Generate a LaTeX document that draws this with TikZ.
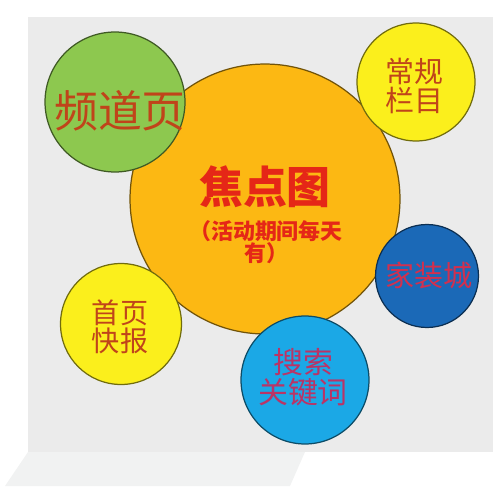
\documentclass[tikz,border=0pt]{standalone}
\usepackage{fontspec}
\setmainfont{Noto Sans CJK SC}
\usetikzlibrary{positioning}

\definecolor{bggray}{HTML}{EBEBEB}
\definecolor{strip}{HTML}{F1F2F2}
\definecolor{pgreen}{HTML}{8DC84F}
\definecolor{porange}{HTML}{FCB813}
\definecolor{pyellow}{HTML}{FBEF1C}
\definecolor{pblue}{HTML}{1B69B7}
\definecolor{psky}{HTML}{1BA8E6}
\definecolor{tbrown}{HTML}{C0441A}
\definecolor{tred}{HTML}{E52717}
\definecolor{tpink}{HTML}{D2304E}
\definecolor{tplum}{HTML}{BA3466}

\tikzset{
  bubble/.style={circle, draw=black!55!#1, fill=#1, line width=0.7pt, inner sep=0pt},
  word/.style={inner sep=0pt, align=center, font=\fontsize{#1}{#1}\selectfont},
  boldword/.style={inner sep=0pt, align=center, font=\fontsize{#1}{#1}\selectfont\bfseries},
}

\begin{document}
\begin{tikzpicture}[x=0.02cm, y=-0.02cm]
  \useasboundingbox (0,0) rectangle (500,500);
  % background
  \fill[strip] (28,452) -- (305,452) -- (290,486) -- (5,486) -- cycle;
  \fill[bggray] (28,17) rectangle (493,452);

  % big circle
  \node[bubble=porange, minimum size=5.4cm] (focus) at (265,199) {};

  % small circles
  \node[bubble=pgreen, minimum size=2.8cm] (channel) at (115,102) {};
  \node[bubble=pyellow, minimum size=2.36cm] (column) at (416,82) {};
  \node[bubble=pblue, minimum size=2.06cm] (mall) at (427,276) {};
  \node[bubble=pyellow, minimum size=2.42cm] (flash) at (121,324) {};
  \node[bubble=psky, minimum size=2.56cm] (search) at (305,380) {};

  % texts
  \node[boldword=25, text=tred] (focusT) at (265,187) {焦点图};
  \node[boldword=12.5, text=tred] (focusS) at (266,242)
    {（活动期间每天\\有）};
  \node[word=25, text=tbrown] (channelT) at (120,111) {频道页};
  \node[word=16.5, text=tbrown] (columnT) at (414,86) {常规\\栏目};
  \node[word=16.5, text=tpink] (mallT) at (429,275) {家装城};
  \node[word=16, text=tbrown] (flashT) at (120,327) {首页\\快报};
  \node[word=17, text=tplum] (searchT) at (303,377) {搜索\\关键词};
\end{tikzpicture}
\end{document}
